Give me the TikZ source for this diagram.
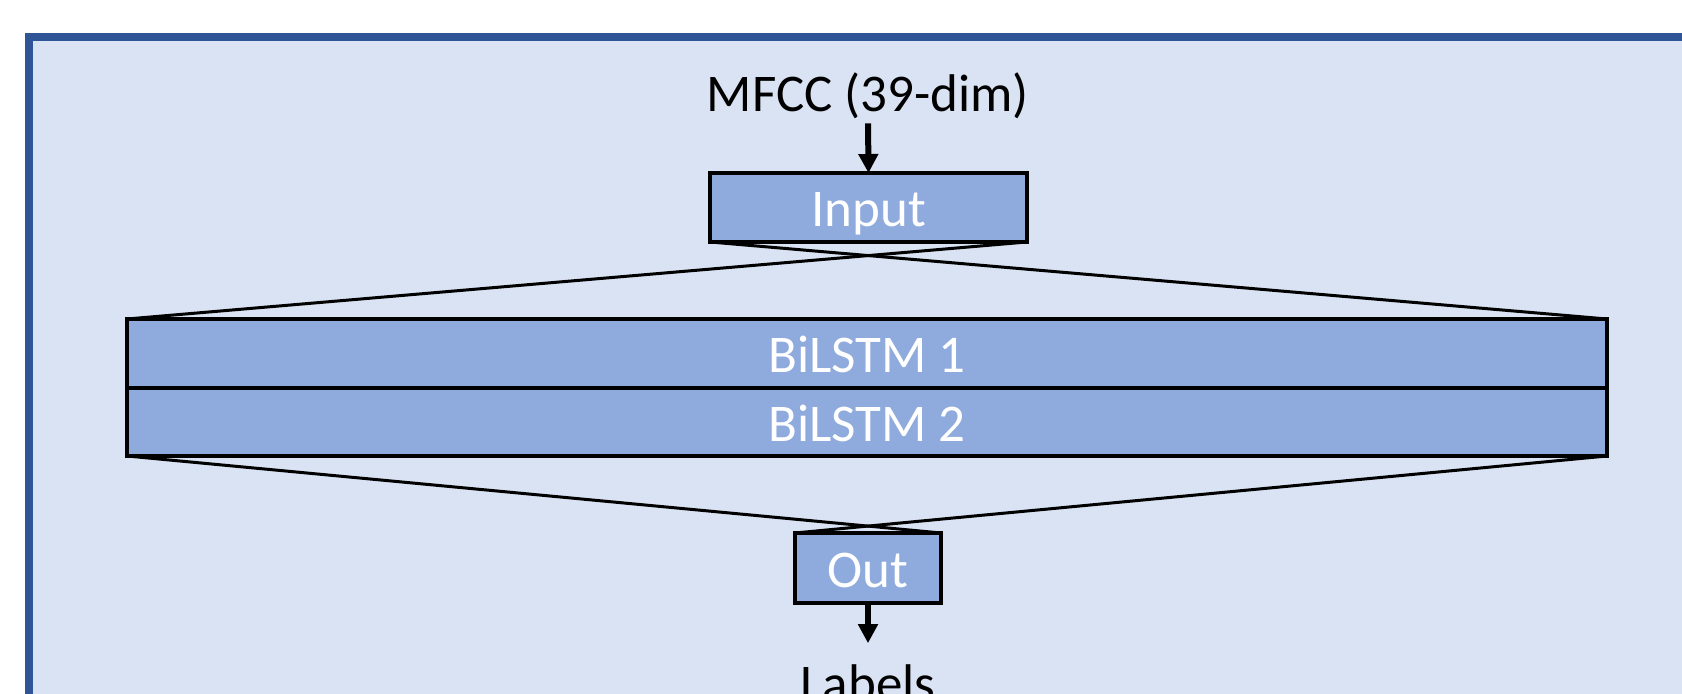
\documentclass[tikz,border=0pt]{standalone}
\usepackage{fontspec}
\setmainfont{Carlito}
\usetikzlibrary{arrows.meta}
\usetikzlibrary{positioning}
\definecolor{frameblue}{RGB}{47,85,151}
\definecolor{panelblue}{RGB}{218,227,243}
\definecolor{layerblue}{RGB}{143,170,220}

\begin{document}
\begin{tikzpicture}[x=0.5pt, y=-0.5pt, inner sep=0pt, outer sep=0pt,
  layer/.style={draw=black, line width=2pt, fill=layerblue, text=white,
    font=\fontsize{26.5}{30}\selectfont, text height=20pt, text depth=0.5pt},
  caption/.style={font=\fontsize{26.5}{30}\selectfont, text=black},
  feed/.style={line width=3pt, -{Triangle[width=9.5pt,length=9.5pt]}},
  fan/.style={line width=1.5pt}]

\useasboundingbox (0,0) rectangle (1682,694);
\clip (0,0) rectangle (1682,694);

% panel
\draw[fill=panelblue, draw=frameblue, line width=4pt] (29,37) rectangle (1720,740);

% layers
\node[layer, minimum width=158.5pt, minimum height=34.5pt] (inp) at (868.5,207.5) {Input};
\node[layer, minimum width=740pt, minimum height=34.5pt] (bilstm1) at (867,353.5) {BiLSTM 1};
\node[layer, minimum width=740pt, minimum height=34pt, below=0pt of bilstm1] (bilstm2) {BiLSTM 2};
\node[layer, minimum width=73pt, minimum height=35pt] (out) at (868,568) {Out};

% input and output
\node[caption, anchor=base] (mfcc) at (868,112) {MFCC (39-dim)};
\node[caption, anchor=base] (labels) at (868,702) {Labels};

\draw[feed, shorten <=2pt] (mfcc.south) -- (inp.north);
\draw[feed, shorten >=11pt] (out.south) -- (labels.north);

% fan in / fan out
\draw[fan] (inp.south west) -- (bilstm1.north east);
\draw[fan] (inp.south east) -- (bilstm1.north west);
\draw[fan] (bilstm2.south west) -- (out.north east);
\draw[fan] (bilstm2.south east) -- (out.north west);

\end{tikzpicture}
\end{document}
